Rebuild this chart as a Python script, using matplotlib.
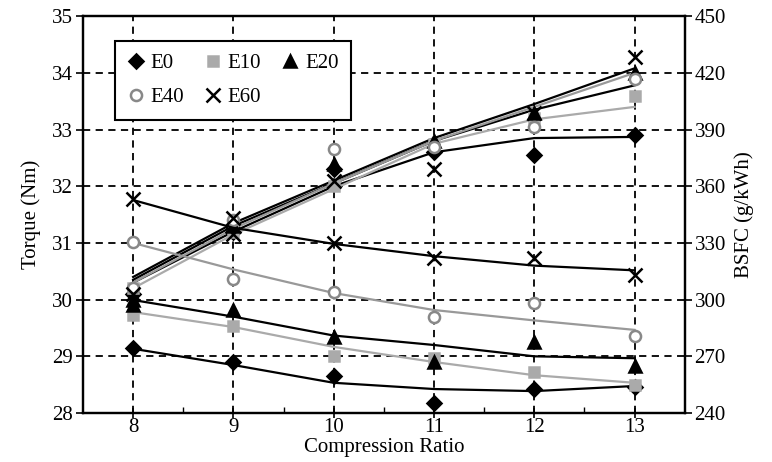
import numpy as np
import matplotlib.pyplot as plt
from matplotlib.lines import Line2D

plt.rcParams['font.family'] = ['Liberation Serif', 'DejaVu Serif']

cr = [8, 9, 10, 11, 12, 13]
fuels = ["E0", "E10", "E20", "E40", "E60"]

# Torque (Nm) measured points
torque = {
    "E0":  [30.1, 31.2, 32.3, 32.6, 32.55, 32.9],
    "E10": [30.2, 31.2, 32.0, 32.75, 33.2, 33.6],
    "E20": [30.0, 31.3, 32.4, 32.8, 33.3, 34.0],
    "E40": [30.2, 31.4, 32.65, 32.7, 33.05, 33.9],
    "E60": [30.1, 31.15, 32.1, 32.3, 33.3, 34.28],
}
# Torque trend lines read at each compression ratio
torque_fit = {
    "E0":  [30.3, 31.2, 32.0, 32.6, 32.85, 32.87],
    "E10": [30.2, 31.15, 31.95, 32.75, 33.18, 33.4],
    "E20": [30.35, 31.3, 32.05, 32.8, 33.35, 33.78],
    "E40": [30.3, 31.25, 32.05, 32.8, 33.4, 34.0],
    "E60": [30.4, 31.35, 32.1, 32.85, 33.45, 34.08],
}

# BSFC (g/kWh) measured points
bsfc = {
    "E0":  [274.4, 267, 259.6, 245.3, 252.7, 254],
    "E10": [292, 286, 270, 269, 261.7, 254.8],
    "E20": [297, 294.5, 280, 267, 277.6, 265],
    "E40": [330.5, 311, 304, 291, 298, 281],
    "E60": [353, 343, 330, 322, 322, 313],
}
# BSFC trend lines read at each compression ratio
bsfc_fit = {
    "E0":  [274, 265.4, 256, 252.7, 251.6, 254.3],
    "E10": [293.4, 285.5, 275, 267, 260, 256],
    "E20": [299.8, 291, 281, 276, 270, 269],
    "E40": [330, 316, 303.5, 294.5, 289, 284],
    "E60": [352.7, 338, 329.5, 323, 318, 315.5],
}

style = {
    "E0":  dict(marker="D", mfc="black", mec="black", ms=7, line="black"),
    "E10": dict(marker="s", mfc="#aaaaaa", mec="#aaaaaa", ms=7, line="#aaaaaa"),
    "E20": dict(marker="^", mfc="black", mec="black", ms=8, line="black"),
    "E40": dict(marker="o", mfc="white", mec="#888888", ms=8, line="#999999"),
    "E60": dict(marker="x", mfc="black", mec="black", ms=10, line="black"),
}

fig = plt.figure(figsize=(7.72, 4.62), dpi=100)
ax = fig.add_axes([0.1075, 0.106, 0.7795, 0.859])
ax2 = ax.twinx()

for f in fuels:
    s = style[f]
    ax.plot(cr, torque_fit[f], color=s["line"], lw=1.6, zorder=3)
    ax2.plot(cr, bsfc_fit[f], color=s["line"], lw=1.6, zorder=3)
for f in fuels:
    s = style[f]
    ax.plot(cr, torque[f], ls="none", marker=s["marker"], mfc=s["mfc"],
            mec=s["mec"], ms=s["ms"], mew=1.8, zorder=4)
    ax2.plot(cr, bsfc[f], ls="none", marker=s["marker"], mfc=s["mfc"],
             mec=s["mec"], ms=s["ms"], mew=1.8, zorder=4)

ax.set_xlim(7.5, 13.5)
ax.set_ylim(28, 35)
ax2.set_ylim(240, 450)
ax.set_xticks(cr)
ax.set_xticks(np.arange(8.5, 13.5, 1), minor=True)
ax.set_yticks(range(28, 36))
ax2.set_yticks(range(240, 451, 30))

ax.grid(True, which="major", color="black", ls=(0, (4, 3)), lw=1.3)
ax.tick_params(axis="x", which="major", direction="inout", length=7, width=1.2,
               labelsize=15, pad=0)
ax.tick_params(axis="x", which="minor", direction="in", length=4, width=1)
ax.tick_params(axis="y", direction="out", length=5, width=1.2, labelsize=15, pad=2)
ax2.tick_params(axis="y", direction="out", length=5, width=1.2, labelsize=15, pad=2)
for a in (ax, ax2):
    for sp in a.spines.values():
        sp.set_linewidth(1.6)

ax.set_xlabel("Compression Ratio", fontsize=15, labelpad=1)
ax.set_ylabel("Torque (Nm)", fontsize=15, labelpad=8)
ax2.set_ylabel("BSFC (g/kWh)", fontsize=15, labelpad=6)

# legend fills column-wise; order so rows read E0 E10 E20 / E40 E60
order = ["E0", "E40", "E10", "E60", "E20"]
handles = []
for f in order:
    s = style[f]
    handles.append(Line2D([], [], ls="none", marker=s["marker"], mfc=s["mfc"],
                          mec=s["mec"], ms=s["ms"], mew=1.8, label=f))
leg = ax2.legend(handles=handles, ncol=3, loc="upper left",
                 bbox_to_anchor=(0.053, 0.937), borderaxespad=0, fontsize=15,
                 frameon=True, fancybox=False, edgecolor="black", framealpha=1,
                 handlelength=0.8, handletextpad=0.3, columnspacing=1.0,
                 borderpad=0.6, labelspacing=0.7)
leg.get_frame().set_linewidth(1.5)
leg.set_zorder(10)

fig.savefig("out.png", dpi=100)
